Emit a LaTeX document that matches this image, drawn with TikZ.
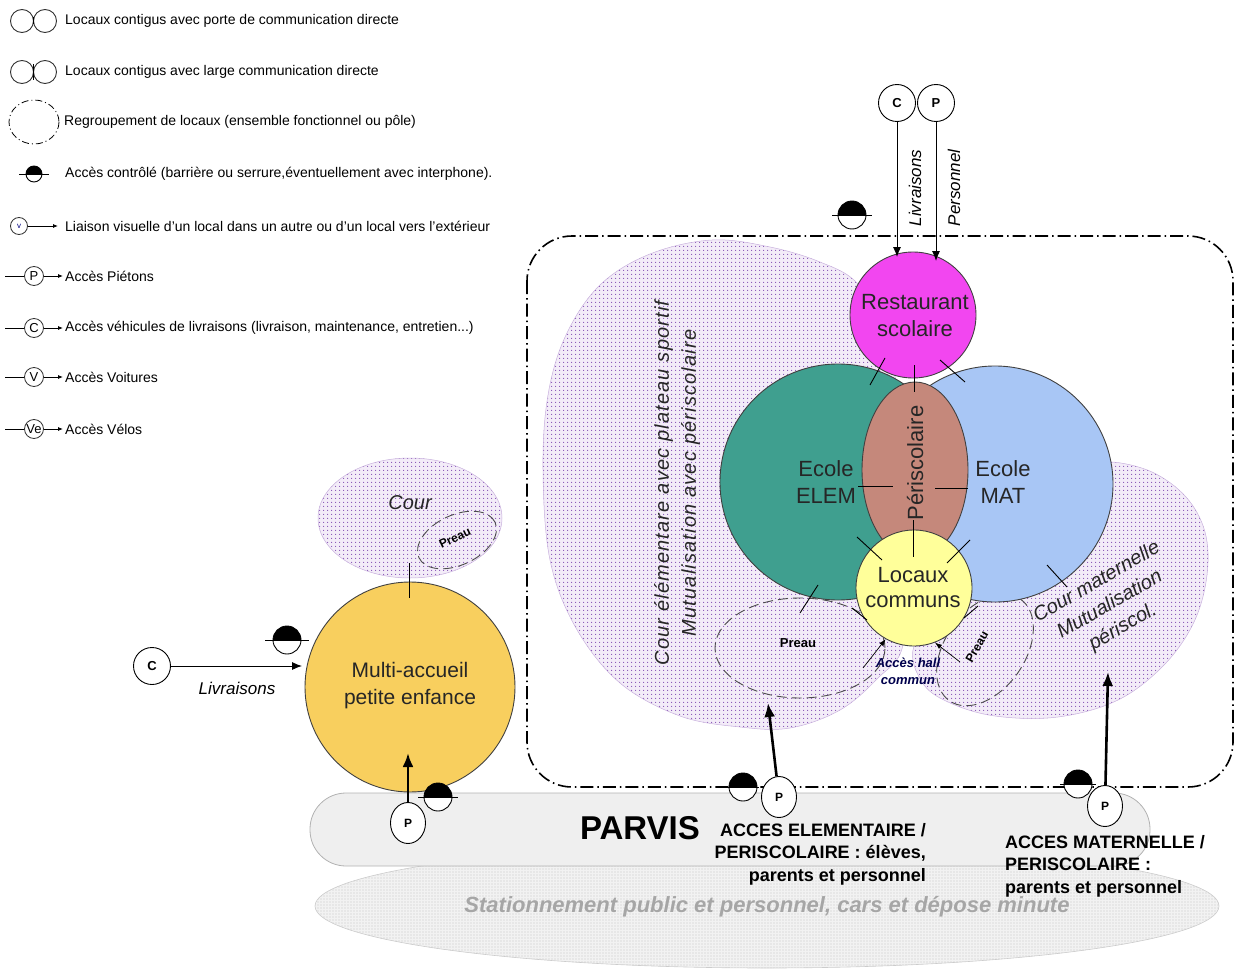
\documentclass[tikz,border=0pt]{standalone}
\usepackage{fontspec}
\setmainfont{Liberation Sans}
\usetikzlibrary{arrows.meta,patterns,patterns.meta,shapes.geometric}
\definecolor{lav}{HTML}{F3ECF8}
\definecolor{lavdot}{HTML}{8450B4}
\definecolor{restoc}{HTML}{F246F0}
\definecolor{elemc}{HTML}{3F9F8F}
\definecolor{matc}{HTML}{A8C6F5}
\definecolor{peric}{HTML}{C5887B}
\definecolor{locc}{HTML}{FFFF9A}
\definecolor{multic}{HTML}{F8CF5E}
\definecolor{parvisc}{HTML}{EFEFEF}
\definecolor{statc}{HTML}{F2F2F2}
\newcommand{\ctrlsym}[4]{%
  \fill[white] (#1,#2) circle (#3);
  \begin{scope}
    \clip (#1-#3-2,#2-#3-2) rectangle (#1+#3+2,#2);
    \fill[black] (#1,#2) circle (#3);
  \end{scope}
  \draw[line width=0.9pt] (#1,#2) circle (#3);
  \draw[line width=0.9pt] (#1-#4,#2) -- (#1+#4,#2);
}
\begin{document}
\begin{tikzpicture}[x=1pt,y=-1pt,
  leg/.style={font=\fontsize{14}{16}\selectfont, anchor=west, inner sep=0pt},
  legsym/.style={circle, draw=black!80, line width=0.8pt, inner sep=0pt, minimum size=19pt, font=\fontsize{13}{15}\selectfont},
  legcirc/.style={circle, draw=black!80, line width=0.9pt, inner sep=0pt, minimum size=23pt},
  legarr/.style={-{Latex[length=5pt,width=4pt]}, line width=0.8pt},
  room/.style={draw=black!75, line width=0.9pt, inner sep=0pt},
  roomtxt/.style={font=\fontsize{22}{27}\selectfont, align=center, text=black!85},
  court/.style={draw=lavdot!45, line width=0.5pt, preaction={fill=lav}, pattern={Dots[distance=4pt, radius=0.75pt]}, pattern color=lavdot},
  preau/.style={ellipse, draw=black!70, dash pattern=on 10pt off 5pt, line width=0.9pt, inner sep=0pt},
  preautxt/.style={font=\bfseries\fontsize{13}{15}\selectfont},
  door/.style={line width=0.9pt},
  ddot/.style={dash pattern=on 13pt off 4pt on 1.5pt off 4pt, line width=1.6pt},
  accsym/.style={circle, draw=black, line width=0.9pt, fill=white, inner sep=0pt, minimum size=37pt, font=\bfseries\fontsize{13}{15}\selectfont},
  pcirc/.style={ellipse, draw=black, line width=0.9pt, fill=white, inner sep=0pt, minimum width=35pt, minimum height=41pt, font=\bfseries\fontsize{12}{14}\selectfont},
  thinarr/.style={-{Latex[length=10pt,width=8pt]}, line width=0.9pt},
  thickarr/.style={-{Latex[length=14pt,width=11pt]}, line width=2.6pt},
  acctxt/.style={font=\bfseries\fontsize{18}{22.5}\selectfont, inner sep=0pt},
]
\useasboundingbox (0,0) rectangle (1235,974);

% ---------------- Legend ----------------
\node[legcirc] (la1) at (22,21) {};
\node[legcirc] (lb1) at (45,21) {};
\draw[line width=1.5pt] (33.5,17.5) -- (33.5,24.5);
\node[leg] (lt1) at (65,21) {Locaux contigus avec porte de communication directe};

\node[legcirc] (la2) at (22,72) {};
\node[legcirc] (lb2) at (45,72) {};
\draw[line width=1.5pt] (33.5,64) -- (33.5,80);
\node[leg] (lt2) at (65,72) {Locaux contigus avec large communication directe};

\draw[dash pattern=on 7pt off 3pt on 1pt off 3pt, line width=0.8pt] (34,122) ellipse (25 and 22);
\node[leg] (lt3) at (64,122) {Regroupement de locaux (ensemble fonctionnel ou pôle)};

\ctrlsym{34}{174}{8}{15}
\node[leg] (lt4) at (65,174) {Accès contrôlé (barrière ou serrure,éventuellement avec interphone).};

\node[legsym, minimum size=17pt, font=\fontsize{8}{9}\selectfont, text=blue!50!black] (lv) at (19,226) {v};
\coordinate (lvE) at (58,226);
\draw[legarr] (lv) -- (lvE);
\node[leg] (lt5) at (65,226) {Liaison visuelle d'un local dans un autre ou d'un local vers l'extérieur};

\coordinate (lpS) at (5,276); \node[legsym] (lp) at (34,276) {P}; \coordinate (lpE) at (63,276);
\draw[line width=0.8pt] (lpS) -- (lp); \draw[legarr] (lp) -- (lpE);
\node[leg] (lt6) at (65,276) {Accès Piétons};

\coordinate (lcS) at (5,328); \node[legsym] (lc) at (34,328) {C}; \coordinate (lcE) at (63,328);
\draw[line width=0.8pt] (lcS) -- (lc); \draw[legarr] (lc) -- (lcE);
\node[leg] (lt7) at (65,328) {Accès véhicules de livraisons (livraison, maintenance, entretien...)};

\coordinate (lvoS) at (5,377); \node[legsym] (lvo) at (34,377) {V}; \coordinate (lvoE) at (63,377);
\draw[line width=0.8pt] (lvoS) -- (lvo); \draw[legarr] (lvo) -- (lvoE);
\node[leg] (lt8) at (65,377) {Accès Voitures};

\coordinate (lveS) at (5,429); \node[legsym] (lve) at (34,429) {Ve}; \coordinate (lveE) at (63,429);
\draw[line width=0.8pt] (lveS) -- (lve); \draw[legarr] (lve) -- (lveE);
\node[leg] (lt9) at (65,429) {Accès Vélos};

% ---------------- Parking & parvis ----------------
\node[ellipse, inner sep=0pt, draw=gray!40, line width=0.6pt, preaction={fill=statc}, pattern={Dots[distance=3pt, radius=0.6pt]}, pattern color=gray!45, minimum width=904pt, minimum height=124pt] (stat) at (767,906) {};
\node[draw=gray!60, line width=0.8pt, fill=parvisc, rounded corners=36pt, minimum width=840pt, minimum height=73pt] (parvis) at (730,829.5) {};

% ---------------- School perimeter ----------------
\draw[ddot, rounded corners=45pt] (527,236) rectangle (1233,787);

% ---------------- Courtyards ----------------
\draw[court] plot[smooth cycle, tension=0.6] coordinates {(712,240) (770,247) (820,262) (857,283) (885,330) (900,420) (905,560) (903,645) (878,678) (840,710) (790,728) (740,727) (680,716) (620,683) (576,628) (550,560) (543,470) (548,395) (566,335) (600,285) (650,254)};
\draw[court] plot[smooth cycle, tension=0.6] coordinates {(1111,462) (1152,472) (1186,497) (1205,532) (1207,575) (1194,622) (1164,665) (1118,700) (1058,717) (995,716) (948,702) (922,682) (914,646) (950,600) (1000,560) (1090,470)};
\node[court, ellipse, inner sep=0pt, minimum width=184pt, minimum height=120pt] (courpe) at (410,518) {};

% ---------------- Preaux ----------------
\node[preau, minimum width=170pt, minimum height=100pt] (preauL) at (800,648) {};
\node[preau, rotate=55, minimum width=124pt, minimum height=80pt] (preauR) at (985,650) {};
\node[preau, rotate=25, minimum width=84pt, minimum height=50pt] (preauC) at (457,540) {};

% ---------------- Rooms ----------------
\node[room, circle, fill=restoc, minimum size=126pt] (resto) at (913,315) {};
\node[room, circle, fill=elemc, minimum size=236pt] (elem) at (838,482) {};
\node[room, circle, fill=matc, minimum size=236pt] (mat) at (995,484) {};
\node[room, ellipse, fill=peric, minimum width=106pt, minimum height=176pt] (peri) at (915,470) {};
\node[room, circle, fill=locc, minimum size=116pt] (loc) at (914,588) {};
\node[room, circle, fill=multic, minimum size=210pt] (multi) at (410,687) {};

% ---------------- Door marks ----------------
\draw[door] (885,358) -- (870,385);
\draw[door] (914,365) -- (914,392);
\draw[door] (940,360) -- (965,382);
\draw[door] (858,486) -- (893,486);
\draw[door] (935,488) -- (968,488);
\draw[door] (913,520) -- (913,557);
\draw[door] (857,537) -- (882,560);
\draw[door] (970,540) -- (947,563);
\draw[door] (818,585) -- (800,613);
\draw[door] (1047,565) -- (1067,587);
\draw[door] (852,608) -- (867,620);
\draw[door] (978,606) -- (964,618);
\draw[door] (409,563) -- (409,598);

% ---------------- Access hall arrows ----------------
\coordinate (hL) at (863,668);
\coordinate (hR) at (960,662);
\draw[-{Latex[length=7pt,width=5pt]}, line width=0.7pt] (hL) -- (loc.-119);
\draw[-{Latex[length=7pt,width=5pt]}, line width=0.7pt] (hR) -- (loc.-69);

% ---------------- Controlled accesses ----------------
\ctrlsym{852}{215}{14}{20}
\ctrlsym{287}{640}{14}{22}
\ctrlsym{438}{797}{14}{20}
\ctrlsym{743}{787}{14}{16}
\ctrlsym{1078}{784}{14}{18}

% ---------------- Access points ----------------
\node[accsym] (ctop) at (897,103) {C};
\node[accsym] (ptop) at (936,103) {P};
\coordinate (rcE) at (897,257);
\coordinate (rpE) at (936,261);
\draw[thinarr] (ctop) -- (rcE);
\draw[thinarr] (ptop) -- (rpE);

\node[accsym] (cL) at (152,666) {C};
\coordinate (cLE) at (302,666);
\draw[thinarr] (cL) -- (cLE);

\node[pcirc] (p1) at (408,823) {P};
\coordinate (p1E) at (408,753);
\draw[thickarr] (p1) -- (p1E);

\node[pcirc] (p2) at (779,797) {P};
\coordinate (p2E) at (768,703);
\draw[thickarr] (p2) -- (p2E);

\node[pcirc] (p3) at (1105,806) {P};
\coordinate (p3E) at (1108,672);
\draw[thickarr] (p3) -- (p3E);

% ---------------- Texts ----------------
\node[font=\itshape\fontsize{17}{20}\selectfont] (livL) at (237,688) {Livraisons};
\node[rotate=90, font=\itshape\fontsize{17}{20}\selectfont] (livT) at (915,188) {Livraisons};
\node[rotate=90, font=\itshape\fontsize{17}{20}\selectfont] (persT) at (954,188) {Personnel};

\node[roomtxt] (restotxt) at (915,316) {Restaurant\\scolaire};
\node[roomtxt] (elemtxt) at (826,482) {Ecole\\ELEM};
\node[roomtxt] (mattxt) at (1003,482) {Ecole\\MAT};
\node[roomtxt, rotate=90] (peritxt) at (915,463) {Périscolaire};
\node[roomtxt, font=\fontsize{22}{25}\selectfont] (loctxt) at (913,588) {Locaux\\communs};
\node[roomtxt, font=\fontsize{21}{27}\selectfont] (multitxt) at (410,686) {Multi-accueil\\petite enfance};

\node[rotate=90, align=center, font=\itshape\fontsize{20}{27}\selectfont\addfontfeatures{LetterSpace=6}, text=black!85] (courelemtxt) at (677,483) {Cour élémentare avec plateau sportif\\Mutualisation avec périscolaire};
\node[rotate=30, align=center, font=\itshape\fontsize{20}{26}\selectfont, text=black!85] (courmattxt) at (1110,605) {Cour maternelle\\Mutualisation\\périscol.};
\node[font=\itshape\fontsize{20}{24}\selectfont, text=black!85] (courpetxt) at (410,503) {Cour};

\node[preautxt] (preauLtxt) at (798,643) {Preau};
\node[preautxt, rotate=60, font=\bfseries\fontsize{12}{14}\selectfont] (preauRtxt) at (977,647) {Preau};
\node[preautxt, rotate=25, font=\bfseries\fontsize{12}{14}\selectfont] (preauCtxt) at (455,538) {Preau};

\node[align=center, font=\bfseries\itshape\fontsize{13}{17}\selectfont, text=blue!30!black] (hall) at (908,671) {Accès hall\\commun};

\node[font=\bfseries\fontsize{33}{36}\selectfont] (parvistxt) at (640,828) {PARVIS};
\node[acctxt, align=right, anchor=north east] (accelem) at (926,823) {ACCES ELEMENTAIRE /\\PERISCOLAIRE : élèves,\\parents et personnel};
\node[acctxt, align=left, anchor=north west] (accmat) at (1005,835) {ACCES MATERNELLE /\\PERISCOLAIRE :\\parents et personnel};

\node[font=\bfseries\itshape\fontsize{22}{26}\selectfont, text=gray!70] (stattxt) at (767,907) {Stationnement public et personnel, cars et dépose minute};
\end{tikzpicture}
\end{document}
